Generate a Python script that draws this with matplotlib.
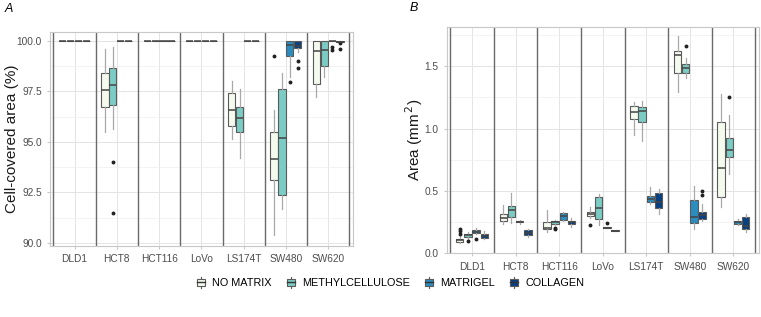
import matplotlib.pyplot as plt
from matplotlib.patches import Rectangle
from matplotlib.lines import Line2D
from matplotlib.legend_handler import HandlerBase
from matplotlib.ticker import MultipleLocator

plt.rcParams['font.family'] = ['Liberation Sans', 'DejaVu Sans']

cells = ['DLD1', 'HCT8', 'HCT116', 'LoVo', 'LS174T', 'SW480', 'SW620']
matrices = ['NO MATRIX', 'METHYLCELLULOSE', 'MATRIGEL', 'COLLAGEN']
colors = ['#f4faee', '#7bccc4', '#2b8cbe', '#084081']

# Panel A: cell-covered area (%), per cell line: (whislo, q1, median, q3, whishi)
full = (100, 100, 100, 100, 100)
cov_nomatrix = [full, (95.48, 96.75, 97.56, 98.42, 99.59), full, full,
                (95.12, 95.79, 96.58, 97.40, 98.00), (90.38, 93.12, 94.13, 95.48, 96.57),
                (97.20, 97.84, 99.49, 100, 100)]
cov_methyl = [full, (95.64, 96.80, 97.79, 98.63, 99.67), full, full,
              (94.21, 95.51, 96.19, 96.72, 97.61), (91.67, 92.38, 95.17, 97.62, 98.39),
              (98.22, 98.75, 99.54, 100, 100)]
cov_matrigel = [full, full, full, full, full, (98.22, 99.24, 99.79, 100, 100), full]
cov_collagen = [full, full, full, full, full, (99.46, 99.62, 99.75, 100, 100),
                (99.92, 99.92, 99.96, 100, 100)]
cov_nomatrix_out = [[], [], [], [], [], [99.24], []]
cov_methyl_out = [[], [93.98, 91.46], [], [], [], [], []]
cov_matrigel_out = [[], [], [], [], [], [97.94], [99.67, 99.54]]
cov_collagen_out = [[], [], [], [], [], [99.01, 98.63], [99.90, 99.57]]

# Panel B: area (mm2)
area_nomatrix = [(0.08, 0.088, 0.10, 0.115, 0.14), (0.23, 0.257, 0.278, 0.313, 0.388),
                 (0.17, 0.195, 0.198, 0.249, 0.345), (0.28, 0.294, 0.31, 0.33, 0.367),
                 (0.949, 1.077, 1.133, 1.184, 1.214), (1.297, 1.444, 1.592, 1.624, 1.744),
                 (0.367, 0.447, 0.68, 1.055, 1.278)]
area_methyl = [(0.11, 0.126, 0.14, 0.153, 0.165), (0.24, 0.289, 0.348, 0.38, 0.482),
               (0.22, 0.233, 0.245, 0.26, 0.262), (0.227, 0.27, 0.364, 0.45, 0.477),
               (0.897, 1.053, 1.141, 1.176, 1.222), (1.404, 1.449, 1.484, 1.519, 1.567),
               (0.632, 0.769, 0.828, 0.927, 1.106)]
area_matrigel = [(0.15, 0.158, 0.17, 0.187, 0.20), (0.23, 0.245, 0.25, 0.258, 0.262),
                 (0.26, 0.268, 0.294, 0.324, 0.33), (0.198, 0.2, 0.203, 0.205, 0.208),
                 (0.394, 0.407, 0.436, 0.455, 0.53), (0.19, 0.238, 0.292, 0.423, 0.541),
                 (0.22, 0.233, 0.245, 0.257, 0.27)]
area_collagen = [(0.11, 0.123, 0.135, 0.153, 0.175), (0.13, 0.141, 0.16, 0.187, 0.19),
                 (0.21, 0.233, 0.245, 0.26, 0.28), (0.172, 0.175, 0.178, 0.182, 0.185),
                 (0.316, 0.362, 0.412, 0.485, 0.511), (0.26, 0.273, 0.302, 0.33, 0.39),
                 (0.169, 0.19, 0.219, 0.292, 0.316)]
area_nomatrix_out = [[0.155, 0.175, 0.19], [], [], [0.227], [], [], []]
area_methyl_out = [[0.093], [], [0.19, 0.2], [], [], [1.666], [1.254]]
area_matrigel_out = [[0.112], [], [], [0.243], [], [], []]
area_collagen_out = [[], [], [], [], [], [0.466, 0.50], []]


def stats(rows, outs):
    return [dict(whislo=r[0], q1=r[1], med=r[2], q3=r[3], whishi=r[4], fliers=o)
            for r, o in zip(rows, outs)]


def draw_panel(ax, series, outliers):
    offsets = [-0.28125, -0.09375, 0.09375, 0.28125]
    for k in range(4):
        pos = [i + 1 + offsets[k] for i in range(len(cells))]
        ax.bxp(stats(series[k], outliers[k]), positions=pos, widths=0.17,
               patch_artist=True, showcaps=False, manage_ticks=False,
               boxprops=dict(facecolor=colors[k], edgecolor='#5a5a5a', lw=0.8),
               whiskerprops=dict(color='#a8a8a8', lw=0.9),
               medianprops=dict(color='#444444', lw=1.1),
               flierprops=dict(marker='o', markersize=1.8, markerfacecolor='#222222',
                               markeredgecolor='#222222'))
    for x in [i + 0.5 for i in range(len(cells) + 1)]:
        ax.axvline(x, color='#6a6a6a', lw=1.0, zorder=1)
    ax.set_xlim(0.42, 7.58)
    ax.set_xticks(range(1, len(cells) + 1))
    ax.set_xticklabels(cells)
    ax.grid(True, which='major', color='#e4e4e4', lw=0.7, zorder=0)
    ax.grid(True, which='minor', axis='y', color='#efefef', lw=0.5, zorder=0)
    ax.set_axisbelow(True)
    for s in ax.spines.values():
        s.set_color('#c8c8c8')
        s.set_linewidth(0.8)
    ax.tick_params(colors='#c8c8c8', labelcolor='#4d4d4d', labelsize=7.3, length=2.5)


fig = plt.figure(figsize=(7.61, 3.17), dpi=100)
axA = fig.add_axes([0.0657, 0.224, 0.3978, 0.676])
axB = fig.add_axes([0.587, 0.2005, 0.41, 0.7155])

draw_panel(axA, [cov_nomatrix, cov_methyl, cov_matrigel, cov_collagen],
           [cov_nomatrix_out, cov_methyl_out, cov_matrigel_out, cov_collagen_out])
axA.set_ylim(89.85, 100.45)
axA.yaxis.set_major_locator(MultipleLocator(2.5))
axA.yaxis.set_minor_locator(MultipleLocator(1.25))
axA.yaxis.set_major_formatter('{x:.1f}')
axA.tick_params(axis='y', which='minor', length=0)
axA.set_ylabel('Cell-covered area (%)', fontsize=11, color='#1a1a1a')
axA.yaxis.set_label_coords(-0.104, 0.5)

draw_panel(axB, [area_nomatrix, area_methyl, area_matrigel, area_collagen],
           [area_nomatrix_out, area_methyl_out, area_matrigel_out, area_collagen_out])
axB.set_ylim(-0.005, 1.82)
axB.yaxis.set_major_locator(MultipleLocator(0.5))
axB.yaxis.set_minor_locator(MultipleLocator(0.25))
axB.yaxis.set_major_formatter('{x:.1f}')
axB.tick_params(axis='y', which='minor', length=0)
axB.set_ylabel('Area (mm$^{\\,2}$)', fontsize=11, color='#1a1a1a')
axB.yaxis.set_label_coords(-0.068, 0.5)

fig.text(0.006, 0.972, 'A', fontsize=9, style='italic', va='center')
fig.text(0.538, 0.975, 'B', fontsize=9, style='italic', va='center')


class BoxHandler(HandlerBase):
    def create_artists(self, legend, orig_handle, xdescent, ydescent, width, height,
                       fontsize, trans):
        x0, y0 = -xdescent, -ydescent
        wl = Line2D([x0 + width / 2] * 2, [y0 - height * 0.15, y0 + height * 1.15],
                    color='#5a5a5a', lw=0.8, transform=trans)
        box = Rectangle((x0 + width * 0.1, y0 + height * 0.1), width * 0.8, height * 0.8,
                        facecolor=orig_handle.get_facecolor(), edgecolor='#5a5a5a',
                        lw=0.8, transform=trans)
        med = Line2D([x0 + width * 0.1, x0 + width * 0.9], [y0 + height / 2] * 2,
                     color='#333333', lw=1.0, transform=trans)
        return [wl, box, med]


handles = [Rectangle((0, 0), 1, 1, facecolor=c) for c in colors]
fig.legend(handles, matrices, loc='center', bbox_to_anchor=(0.513, 0.107), ncol=4,
           frameon=False, fontsize=7.8, handlelength=0.9, handleheight=0.9,
           handletextpad=0.6, columnspacing=1.3,
           handler_map={Rectangle: BoxHandler()})

fig.savefig('out.png', dpi=100)
